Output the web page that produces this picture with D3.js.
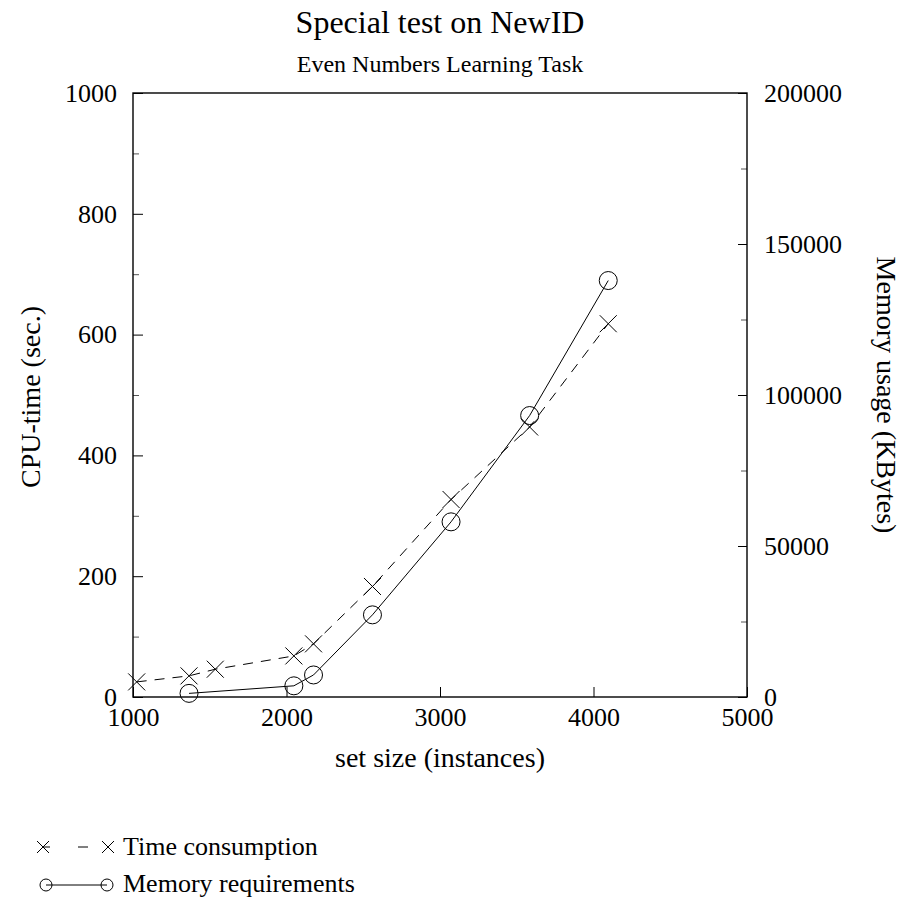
<!DOCTYPE html>
<html>
<head>
<meta charset="utf-8">
<script src="https://cdn.jsdelivr.net/npm/d3@7/dist/d3.min.js"></script>
<style>
body { margin: 0; background: #fff; }
svg text { font-family: "Liberation Serif", "Times New Roman", serif; fill: #000; }
</style>
</head>
<body>
<svg id="chart" width="903" height="899"></svg>
<script>
// axis ticks
var sizeTicks = [1000, 2000, 3000, 4000, 5000];
var cpuTicks = [0, 200, 400, 600, 800, 1000];
var cpuMinor = [100, 300, 500, 700, 900];
var memTicks = [0, 50000, 100000, 150000, 200000];
var memMinor = [25000, 75000, 125000, 175000];

// time consumption (left axis, seconds)
var timeSize = [1024, 1365, 1536, 2048, 2176, 2560, 3072, 3584, 4096];
var timeCpu = [25, 35, 46, 68, 88, 183, 327, 447, 618];

// memory requirements (right axis, KBytes)
var memSize = [1365, 2048, 2176, 2560, 3072, 3584, 4096];
var memKb = [1200, 3700, 7300, 27200, 58000, 93200, 137900];

var plotLeft = 133, plotTop = 93, plotW = 614, plotH = 604;

var svg = d3.select('#chart');
var g = svg.append('g').attr('transform', 'translate(' + plotLeft + ',' + plotTop + ')');

var x = d3.scaleLinear().domain([1000, 5000]).range([0, plotW]);
var yCpu = d3.scaleLinear().domain([0, 1000]).range([plotH, 0]);
var yMem = d3.scaleLinear().domain([0, 200000]).range([plotH, 0]);

function styleAxis(sel, color) {
	sel.select('.domain').remove();
	sel.selectAll('line').attr('stroke', color).attr('stroke-width', 1);
	sel.selectAll('text').style('font-size', '26px');
}

// minor ticks first so majors sit on top
g.append('g')
	.call(d3.axisLeft(yCpu).tickValues(cpuMinor).tickFormat('').tickSize(-6))
	.call(styleAxis, '#555');
g.append('g').attr('transform', 'translate(' + plotW + ',0)')
	.call(d3.axisRight(yMem).tickValues(memMinor).tickFormat('').tickSize(-6))
	.call(styleAxis, '#555');

g.append('g')
	.call(d3.axisLeft(yCpu).tickValues(cpuTicks).tickFormat(d3.format('d')).tickSize(-10).tickPadding(16))
	.call(styleAxis, '#000');
g.append('g').attr('transform', 'translate(' + plotW + ',0)')
	.call(d3.axisRight(yMem).tickValues(memTicks).tickFormat(d3.format('d')).tickSize(-9).tickPadding(17))
	.call(styleAxis, '#000');
g.append('g').attr('transform', 'translate(0,' + plotH + ')')
	.call(d3.axisBottom(x).tickValues(sizeTicks).tickFormat(d3.format('d')).tickSize(-10).tickPadding(11))
	.call(styleAxis, '#000');

// frame
g.append('rect')
	.attr('width', plotW).attr('height', plotH)
	.attr('fill', 'none').attr('stroke', '#000').attr('stroke-width', 1.4);

var timePts = timeSize.map(function(s, i) { return [x(s), yCpu(timeCpu[i])]; });
var memPts = memSize.map(function(s, i) { return [x(s), yMem(memKb[i])]; });

g.append('path')
	.attr('d', d3.line()(timePts))
	.attr('fill', 'none').attr('stroke', '#000').attr('stroke-width', 1)
	.attr('stroke-dasharray', '10,8');

g.append('path')
	.attr('d', d3.line()(memPts))
	.attr('fill', 'none').attr('stroke', '#000').attr('stroke-width', 1);

function cross(sel, r) {
	sel.append('path')
		.attr('d', 'M' + (-r) + ',' + (-r) + 'L' + r + ',' + r + 'M' + (-r) + ',' + r + 'L' + r + ',' + (-r))
		.attr('fill', 'none').attr('stroke', '#000').attr('stroke-width', 1);
}

g.selectAll('.tmark').data(timePts).enter().append('g')
	.attr('transform', function(d) { return 'translate(' + d[0] + ',' + d[1] + ')'; })
	.call(cross, 8.5);

g.selectAll('.mmark').data(memPts).enter().append('circle')
	.attr('cx', function(d) { return d[0]; })
	.attr('cy', function(d) { return d[1]; })
	.attr('r', 9)
	.attr('fill', 'none').attr('stroke', '#000').attr('stroke-width', 1);

// titles
svg.append('text').attr('x', 440).attr('y', 33).attr('text-anchor', 'middle')
	.style('font-size', '32px').text('Special test on NewID');
svg.append('text').attr('x', 440).attr('y', 72).attr('text-anchor', 'middle')
	.style('font-size', '24px').text('Even Numbers Learning Task');
svg.append('text').attr('x', 440).attr('y', 767).attr('text-anchor', 'middle')
	.style('font-size', '28px').text('set size (instances)');
svg.append('text').attr('transform', 'translate(40,397) rotate(-90)').attr('text-anchor', 'middle')
	.style('font-size', '28px').text('CPU-time (sec.)');
svg.append('text').attr('transform', 'translate(877,395) rotate(90)').attr('text-anchor', 'middle')
	.style('font-size', '28px').text('Memory usage (KBytes)');

// legend
var legend = svg.append('g');
legend.append('line').attr('x1', 43).attr('x2', 108).attr('y1', 847).attr('y2', 847)
	.attr('stroke', '#000').attr('stroke-width', 1).attr('stroke-dasharray', '7,28,10,100');
[43, 108].forEach(function(px) {
	legend.append('g').attr('transform', 'translate(' + px + ',847)').call(cross, 6);
});
legend.append('text').attr('x', 123).attr('y', 855).style('font-size', '26px').text('Time consumption');

legend.append('line').attr('x1', 46).attr('x2', 107).attr('y1', 885).attr('y2', 885)
	.attr('stroke', '#000').attr('stroke-width', 1);
[46, 107].forEach(function(px) {
	legend.append('circle').attr('cx', px).attr('cy', 885).attr('r', 6)
		.attr('fill', 'none').attr('stroke', '#000').attr('stroke-width', 1);
});
legend.append('text').attr('x', 123).attr('y', 892).style('font-size', '26px').text('Memory requirements');
</script>
</body>
</html>
